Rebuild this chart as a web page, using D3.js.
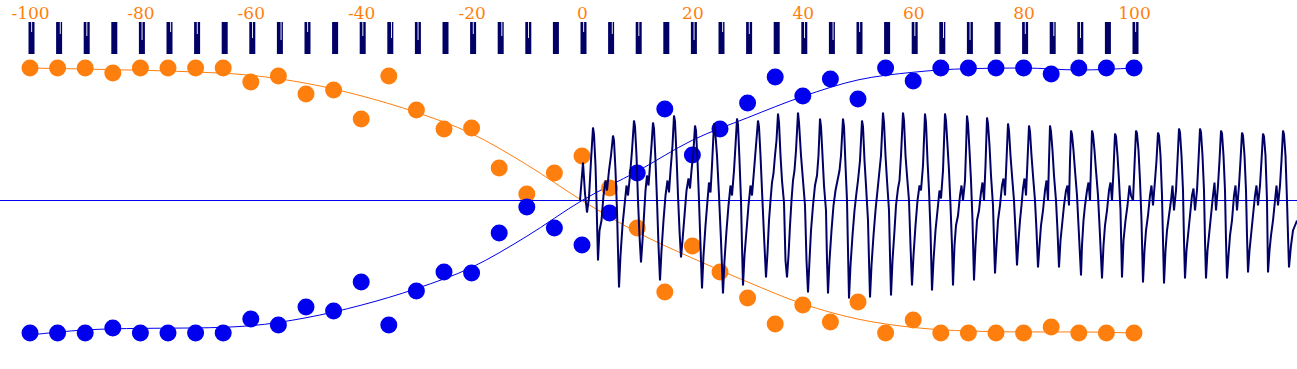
<!DOCTYPE html>
<html>
<head>
<meta charset="utf-8">
<script src="https://cdn.jsdelivr.net/npm/d3@7"></script>
<style>
  html, body { margin: 0; padding: 0; background: #fff; }
  svg { display: block; }
  .tick text { font-family: "DejaVu Serif", serif; font-size: 17px; fill: #ff7f0e; }
</style>
</head>
<body>
<div id="chart"></div>
<script>
// x positions of the dots (also the places of the small tick bars)
const xs = d3.range(-100, 101, 5);
const tickLabels = [-100, -80, -60, -40, -20, 0, 20, 40, 60, 80, 100];

// dot values
const orangeDots = [1.0, 1.0, 1.0, 0.962, 1.0, 1.0, 1.0, 1.0, 0.894, 0.94, 0.804,
  0.834, 0.615, 0.94, 0.683, 0.54, 0.547, 0.245, 0.049, 0.208, 0.336, 0.094,
  -0.208, -0.691, -0.343, -0.54, -0.736, -0.932, -0.789, -0.917, -0.766, -1.0,
  -0.902, -1.0, -1.0, -1.0, -1.0, -0.955, -1.0, -1.0, -1.0];
const blueDots = [-1.0, -1.0, -1.0, -0.962, -1.0, -1.0, -1.0, -1.0, -0.894, -0.94, -0.804,
  -0.834, -0.615, -0.94, -0.683, -0.54, -0.547, -0.245, -0.049, -0.208, -0.336, -0.094,
  0.208, 0.691, 0.343, 0.54, 0.736, 0.932, 0.789, 0.917, 0.766, 1.0,
  0.902, 1.0, 1.0, 1.0, 1.0, 0.955, 1.0, 1.0, 1.0];

// fitted curves, every 10 units
const curveX = d3.range(-100, 101, 10);
const orangeCurve = [1.0, 0.992, 0.983, 0.97, 0.945, 0.885, 0.79, 0.665, 0.505, 0.27, 0,
  -0.24, -0.435, -0.615, -0.78, -0.895, -0.958, -0.985, -0.992, -0.992, -1.0];
const blueCurve = [-1.015, -0.977, -0.965, -0.962, -0.945, -0.885, -0.79, -0.665, -0.505, -0.27, 0,
  0.22, 0.455, 0.625, 0.785, 0.91, 0.968, 0.995, 1.0, 0.985, 1.0];

// the signal trace (time in ms, value in mV)
const waveT = [0,3,5,7,9,11,13,
  14,15.5,16.5,18, 19.5,21.5,23.5,25.5,27,29,31,33,
  34,35.5,37,38,39, 40.5,42.5,44.5,46.5,48,50,52,54,
  55,56.5,58,59.5,61, 62.5,64,65.5,67,68.5,70,71.5,73,
  74,75.5,77,78.5,80, 81.5,83.5,85.5,87.5,89,90.5,92.5,94,
  95,96.5,98,99.5,101, 102.5,104.5,106.5,108.5,110,111.5,113.5,115,
  116,117.5,119,120.5,122, 123.5,125.5,127.5,129,130.5,132,134,
  135,137,139,141,143, 144.5,146.5,148.5,150.5,152,154,155.5,157,
  158,159.5,161,162,163, 164.5,166.5,168.5,170.5,172,174,176,178,
  179,180.5,182,184,186, 187.5,189,190.5,192,193.5,195,196.5,198,
  199,200.5,202,204,205.5,207, 208.5,210,211.5,213,214.5,216,218,
  219,221,223,225,226.5,228, 229.5,231,233,235,237,238.5,240,
  241,242.5,244,246,247,248, 249.5,251.5,253.5,255.5,257.5,259.5,261,263,
  264,265.5,267,268,269, 270.5,272.5,274.5,276.5,278,280,282,
  283,284.5,286,288,289,290, 291.5,293.5,295.5,297.5,299,301,303,
  304,305.5,307,309,310,311, 312.5,314.5,316,318,319.5,321,323,
  324,325.5,327,329,330.5,332, 333.5,335.5,337.5,339.5,341,343,345,
  346,347.5,349,350.5,352, 353.5,355.5,357.5,359.5,361,363,365,
  366,367.5,369,370.5,372,373, 374.5,376,378,380,381.5,383,385,386,387,
  388,389.5,391,392.5,394, 395.5,397,399,401,402.5,404,405.5,407,
  408,409.5,411,413,414,415, 416.5,418,420,422,423.5,425,426.5,428,
  429,430.5,432,434,435.5,437, 438.5,440,441.5,443,444.5,446,447.5,449,
  450,451.5,453,455,456.5,458, 459.5,461,463,465,466.5,468,469,470,
  471,472.5,474,476,477.5,479, 480.5,482,484,486,487.5,489,490,491,
  492,493.5,495,497,499,501, 502,503.5,505,507,508.5,510,511,512,
  513,514.5,516,518,520,522, 523.5,525,527,529,530.5,532,533.5,535,
  536,537.5,539,540.5,542, 543.5,545.5,547.5,549.5,551,553,554.5,556,
  557,558.5,560,561.5,563, 564.5,566,568,570,571.5,573,575,576.5,578,
  579,580.5,582,583,584, 585.5,587,589,591,592.5,594,596,597.5,599,
  600,601.5,603,604,605, 606.5,608,610,612,613.5,615,617,618.5,620,
  621,622.5,624,625,626, 627.5,629,631,633,634.5,636,638,639.5,641,
  642,643.5,645,646,647, 648.5,650,652,654,655.5,657,659,660.5,662,
  663,664.5,666,667,668, 669.5,671,673,675,676.5,678,680,681.5,683,
  684,685.5,687,688, 689.5,691,693,695,696.5,698,700,701.5,703,
  704,705.5,707,708,709, 711,713,715,717];
const waveV = [0,38,7,-12,3,40,73,
  66,35,0,-60, -30,-20,5,20,10,30,45,65,
  60,30,-10,-50,-87, -55,-25,-5,15,5,25,50,80,
  74,45,0,-35,-62, -40,-15,10,25,15,35,55,78,
  72,40,0,-45,-80, -50,-20,5,20,8,30,55,85,
  79,45,5,-30,-57, -40,-15,10,22,12,30,50,75,
  70,40,0,-45,-88, -55,-25,0,18,8,35,77,
  72,45,5,-40,-93, -60,-30,-5,15,5,30,55,82,
  76,40,0,-45,-85, -55,-30,-5,15,5,30,55,80,
  74,45,10,-35,-77, -52,-20,0,18,27,45,60,87,
  78,45,20,-2,-60,-77, -55,-25,0,20,30,50,88,
  78,45,20,-5,-60,-92, -60,-30,-5,15,25,45,82,
  74,45,15,-10,-60,-93, -60,-30,-5,10,20,30,45,82,
  74,35,0,-50,-98, -65,-35,-10,8,20,40,80,
  74,40,15,-20,-60,-97, -65,-35,-10,10,25,45,88,
  78,45,20,-10,-55,-95, -60,-30,-5,12,20,45,88,
  80,45,25,0,-45,-85, -55,-25,0,15,10,35,87,
  78,40,10,-30,-90, -60,-30,-10,10,2,30,87,
  80,55,30,-5,-45,-85, -45,-25,-15,5,15,0,20,50,85,
  77,50,20,-20,-80, -45,-20,-10,8,18,0,35,83,
  77,55,25,-5,-40,-73, -45,-20,-5,15,22,5,40,77,
  70,45,25,0,-30,-65, -40,-20,-5,12,22,5,40,75,
  69,45,25,0,-30,-67, -45,-25,-10,10,20,0,40,75,
  69,50,25,0,-30,-67, -40,-25,-5,10,15,-5,40,70,
  66,50,30,5,-35,-75, -45,-20,-5,10,18,0,35,70,
  66,50,30,5,-35,-78, -45,-25,-10,10,18,0,30,67,
  64,45,20,-10,-77, -40,-20,-5,15,5,0,35,70,
  67,50,20,-20,-82, -50,-30,-15,5,15,-5,20,40,68,
  65,45,5,-40,-83, -50,-30,-15,0,15,-10,10,40,72,
  68,45,10,-40,-78, -50,-35,-15,5,12,-10,10,40,72,
  68,45,10,-40,-78, -50,-35,-15,5,18,-10,15,40,70,
  67,45,10,-40,-78, -55,-35,-20,5,15,-10,15,40,68,
  65,45,10,-35,-72, -50,-35,-15,5,15,-5,15,40,67,
  64,45,0,-72, -50,-35,-20,0,15,-5,15,40,70,
  66,45,0,-35,-67, -45,-30,-25,-20];

const width = 1297, height = 369;
const orange = '#ff7f0e', blue = '#0000ee', navy = '#000066';

const x = d3.scaleLinear().domain([-100, 100]).range([30, 1134]);
const y = d3.scaleLinear().domain([-1, 1]).range([333, 68]);
const tx = d3.scaleLinear().domain([0, 717]).range([580, 1297]);
const ty = d3.scaleLinear().domain([-132.5, 132.5]).range([333, 68]);

const svg = d3.select('#chart').append('svg')
  .attr('width', width)
  .attr('height', height);

// axis labels on top
svg.append('g')
  .attr('transform', 'translate(0,19)')
  .call(d3.axisTop(x).tickValues(tickLabels).tickSize(0).tickPadding(0).tickFormat(d => String(d)))
  .call(g => g.select('.domain').remove());

// tick bars: solid block with a thin light slit in the upper half
const bars = svg.append('g');
xs.forEach((v, i) => {
  const bx = x(v);
  bars.append('rect').attr('x', bx - 1.5).attr('y', 22).attr('width', 6).attr('height', 32).attr('fill', navy);
  if (i % 4 !== 3) {
    bars.append('rect').attr('x', bx + 1.2 + (i % 2)).attr('y', 22)
      .attr('width', 0.9).attr('height', 10 + (i % 5) * 2).attr('fill', '#fff');
  }
});

// fitted curves
const line = d3.line().x(d => x(d[0])).y(d => y(d[1])).curve(d3.curveMonotoneX);
svg.append('path')
  .datum(curveX.map((v, i) => [v, orangeCurve[i]]))
  .attr('fill', 'none').attr('stroke', orange).attr('stroke-width', 1)
  .attr('d', line);
svg.append('path')
  .datum(curveX.map((v, i) => [v, blueCurve[i]]))
  .attr('fill', 'none').attr('stroke', blue).attr('stroke-width', 1)
  .attr('d', line);

// dots
svg.append('g').selectAll('circle')
  .data(xs.map((v, i) => [v, orangeDots[i]]))
  .join('circle')
  .attr('cx', d => x(d[0])).attr('cy', d => y(d[1])).attr('r', 8.5)
  .attr('fill', orange);
svg.append('g').selectAll('circle')
  .data(xs.map((v, i) => [v, blueDots[i]]))
  .join('circle')
  .attr('cx', d => x(d[0])).attr('cy', d => y(d[1])).attr('r', 8.5)
  .attr('fill', blue);

// zero line
svg.append('line')
  .attr('x1', 0).attr('x2', width)
  .attr('y1', y(0)).attr('y2', y(0))
  .attr('stroke', blue).attr('stroke-width', 1.2);

// signal trace
const wave = d3.line().x(d => tx(d[0])).y(d => ty(d[1]));
svg.append('path')
  .datum(waveT.map((t, i) => [t, waveV[i]]))
  .attr('fill', 'none').attr('stroke', navy).attr('stroke-width', 2)
  .attr('stroke-linejoin', 'miter')
  .attr('d', wave);
</script>
</body>
</html>
